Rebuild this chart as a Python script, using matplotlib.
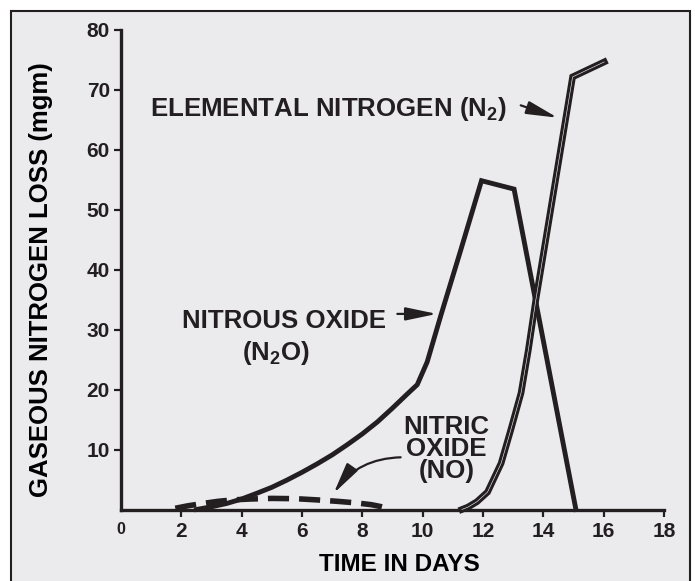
import matplotlib
matplotlib.use('Agg')
import matplotlib.pyplot as plt
from matplotlib.patches import Rectangle

INK = '#231F20'
PANEL = '#EBEBED'

# nitrous oxide (N2O) loss, mgm
days_n2o = [2.5, 3.0, 3.5, 4.0, 4.5, 5.0, 5.5, 6.0, 6.5, 7.0, 7.5, 8.0, 8.5, 9.0,
            9.5, 9.82, 10.15, 10.6, 11.26, 11.95, 13.03, 15.08]
loss_n2o = [0.0, 0.45, 1.0, 1.75, 2.7, 3.7, 4.9, 6.2, 7.6, 9.1, 10.8, 12.6, 14.6, 16.9,
            19.3, 20.8, 24.6, 32.3, 43.2, 54.8, 53.4, 0.0]

# elemental nitrogen (N2) loss, mgm
days_n2 = [11.3, 11.5, 11.8, 12.15, 12.6, 12.92, 13.26, 13.5, 13.75, 14.97, 16.02]
loss_n2 = [0.0, 0.4, 1.3, 2.9, 7.7, 13.25, 19.4, 26.5, 34.9, 72.1, 74.6]

# nitric oxide (NO) loss, mgm
days_no = [1.8, 2.2, 2.7, 3.2, 3.7, 4.3, 5.0, 5.8, 6.5, 7.2, 7.8, 8.3, 8.6, 8.85]
loss_no = [0.2, 0.6, 1.0, 1.35, 1.6, 1.75, 1.85, 1.8, 1.6, 1.35, 1.1, 0.8, 0.5, 0.15]

x_ticks = [0, 2, 4, 6, 8, 10, 12, 14, 16, 18]
y_ticks = [10, 20, 30, 40, 50, 60, 70, 80]

plt.rcParams['font.family'] = ['Liberation Sans', 'DejaVu Sans']
plt.rcParams['font.weight'] = 'bold'
plt.rcParams['mathtext.fontset'] = 'custom'
plt.rcParams['mathtext.default'] = 'bf'
plt.rcParams['mathtext.bf'] = 'Liberation Sans:bold'
plt.rcParams['text.color'] = INK

fig = plt.figure(figsize=(6.95, 5.81), dpi=100, facecolor='white')
fig.patches.append(Rectangle((11 / 695, -0.1), 679 / 695, 1.1 - 11 / 581,
                             transform=fig.transFigure, facecolor=PANEL,
                             edgecolor=INK, lw=1.5, zorder=-10))

ax = fig.add_axes([121 / 695, 1 - 509.5 / 581, 543 / 695, 480 / 581])
ax.set_facecolor('none')

ax.plot(days_no, loss_no, color=INK, lw=4.0, dashes=(3.8, 1.8),
        clip_on=False, zorder=3)
ax.plot(days_n2o, loss_n2o, color=INK, lw=3.5, solid_joinstyle='miter',
        clip_on=False, zorder=4)
# N2 drawn as a double line: heavy black stroke with a thin light core
ax.plot(days_n2, loss_n2, color=INK, lw=4.8, solid_joinstyle='miter',
        clip_on=False, zorder=5)
ax.plot(days_n2, loss_n2, color='white', lw=0.4, solid_joinstyle='miter',
        clip_on=False, zorder=6)

ax.set_xlim(0, 18)
ax.set_ylim(0, 80)
ax.set_xticks(x_ticks)
ax.set_yticks(y_ticks)
ax.set_xticklabels([str(t) for t in x_ticks], fontweight='bold')
ax.set_yticklabels([str(t) for t in y_ticks], fontweight='bold')

for side in ['top', 'right']:
    ax.spines[side].set_visible(False)
for side in ['left', 'bottom']:
    ax.spines[side].set_linewidth(2.4)
    ax.spines[side].set_color(INK)
    ax.spines[side].set_capstyle('projecting')

ax.tick_params(direction='out', length=5, width=1.6, color=INK,
               labelcolor=INK, labelsize=15)
ax.tick_params(axis='x', pad=4)
ax.tick_params(axis='y', pad=3)
ax.xaxis.get_major_ticks()[0].tick1line.set_visible(False)
ax.get_xticklabels()[0].set_fontsize(11.5)

ax.set_xlabel('TIME IN DAYS', fontsize=17.5, fontweight='bold')
ax.xaxis.set_label_coords(0.512, -0.1156)
ax.xaxis.label.set_va('center')
ax.set_ylabel('GASEOUS NITROGEN LOSS (mgm)', fontsize=18.5, fontweight='bold')
ax.yaxis.set_label_coords(-0.147, 0.478)
ax.yaxis.label.set_va('center')

note = dict(fontsize=18.6, fontweight='bold', color=INK)
ax.text(0.96, 65.6, r'ELEMENTAL NITROGEN (N$_2$)', ha='left', va='baseline', **note)
ax.text(2.02, 30.25, 'NITROUS OXIDE', ha='left', va='baseline', **note)
ax.text(5.12, 24.96, r'(N$_2$O)', ha='center', va='baseline', **note)
ax.text(10.79, 10.1, 'NITRIC\nOXIDE\n(NO)', ha='center', va='center',
        multialignment='center', linespacing=0.9, **note)

arrow = dict(arrowstyle='-|>,head_length=0.95,head_width=0.2', color=INK,
             lw=1.6, shrinkA=0, shrinkB=0, mutation_scale=20)
ax.annotate('', xy=(14.47, 65.3), xytext=(13.25, 67.36), arrowprops=arrow)
ax.annotate('', xy=(10.47, 32.6), xytext=(9.16, 32.6), arrowprops=arrow)
ax.annotate('', xy=(7.05, 2.7), xytext=(9.27, 8.7),
            arrowprops=dict(arrow, connectionstyle='arc3,rad=0.25'))

fig.savefig('out.png', dpi=100, facecolor=fig.get_facecolor())
